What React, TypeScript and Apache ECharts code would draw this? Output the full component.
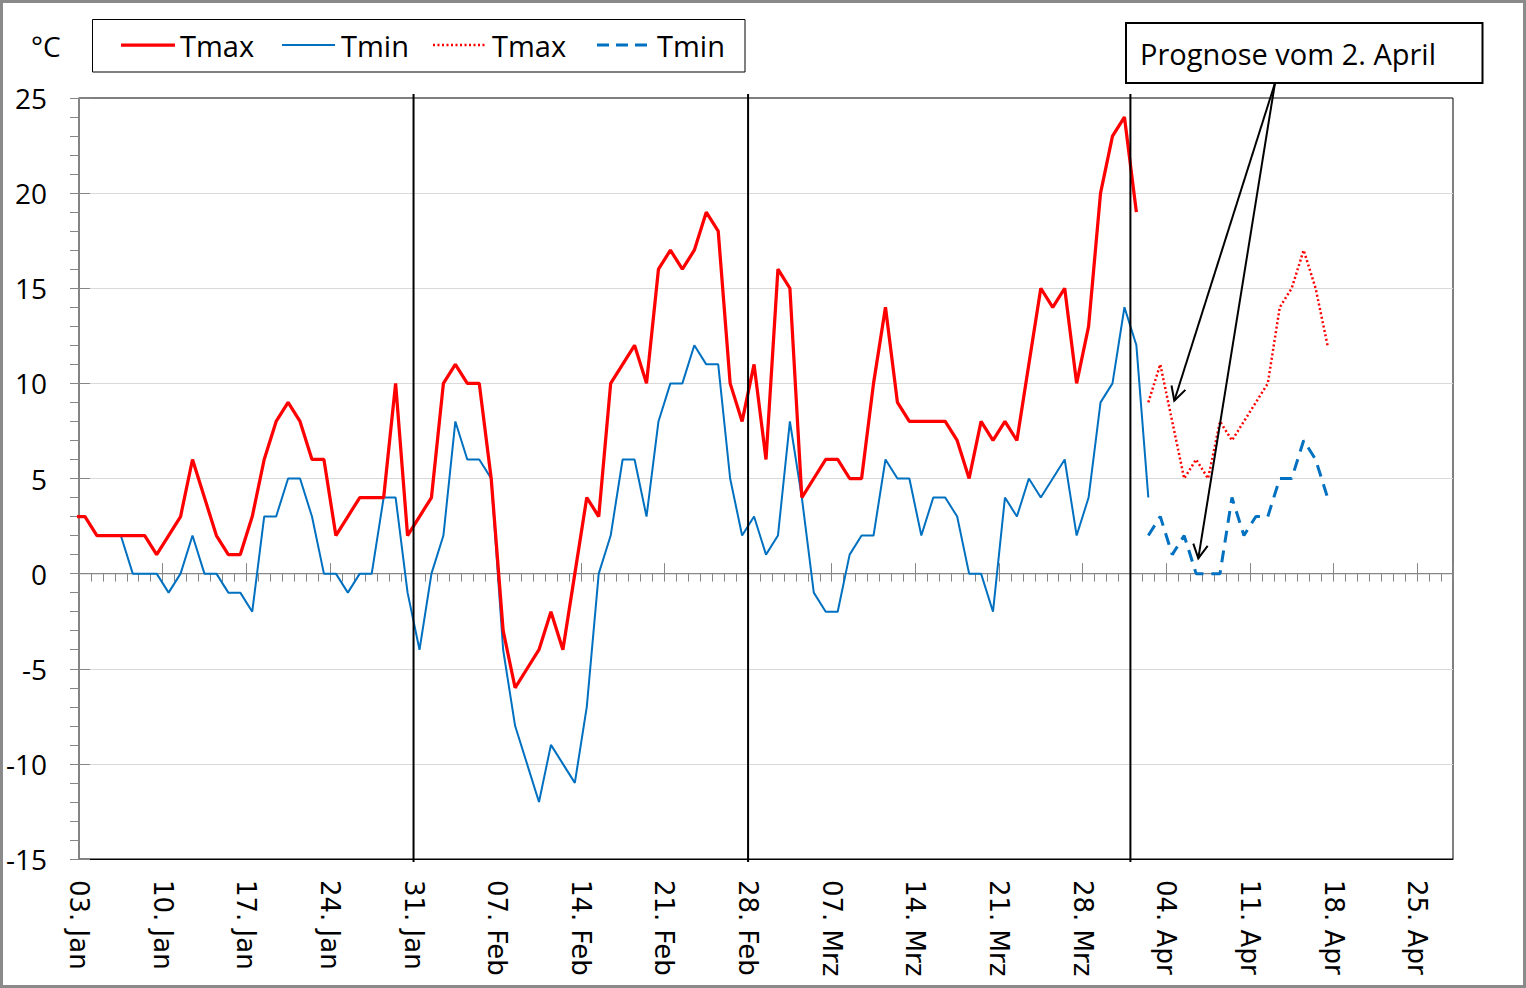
import React, { useEffect, useRef } from "react";
import * as echarts from "echarts";

// ---------- data ----------
const MONTH_LABELS = ["Jan", "Feb", "Mrz", "Apr", "Mai", "Jun", "Jul", "Aug", "Sep", "Okt", "Nov", "Dez"];
const AXIS_START = { year: 2023, month: 0, day: 3 }; // day 0 = 03. Jan
const X_MAX_DAYS = 115;
const X_TICK_INTERVAL = 7;
const Y_MIN = -15;
const Y_MAX = 25;
const Y_INTERVAL = 5;

// observed values, first value = 02. Jan (offset -1 from 03. Jan)
const OBS_START_OFFSET = -1;
const TMAX_OBS = [
  3, 3, 2, 2, 2, 2, 2, 1, 2, 3,
  6, 4, 2, 1, 1, 3, 6, 8, 9, 8,
  6, 6, 2, 3, 4, 4, 4, 10, 2, 3,
  4, 10, 11, 10, 10, 5, -3, -6, -5, -4,
  -2, -4, 0, 4, 3, 10, 11, 12, 10, 16,
  17, 16, 17, 19, 18, 10, 8, 11,
  6, 16, 15, 4, 5, 6, 6, 5, 5, 10,
  14, 9, 8, 8, 8, 8, 7, 5, 8, 7,
  8, 7, 11, 15, 14, 15, 10, 13, 20, 23, 24,
  19,
];
const TMIN_OBS = [
  3, 3, 2, 2, 2, 0, 0, 0, -1, 0,
  2, 0, 0, -1, -1, -2, 3, 3, 5, 5,
  3, 0, 0, -1, 0, 0, 4, 4, -1, -4,
  0, 2, 8, 6, 6, 5, -4, -8, -10, -12,
  -9, -10, -11, -7, 0, 2, 6, 6, 3, 8,
  10, 10, 12, 11, 11, 5, 2, 3,
  1, 2, 8, 4, -1, -2, -2, 1, 2, 2,
  6, 5, 5, 2, 4, 4, 3, 0, 0, -2,
  4, 3, 5, 4, 5, 6, 2, 4, 9, 10, 14,
  12, 4,
];

// forecast from 02. Apr (offset 89)
const FC_START_OFFSET = 89;
const TMAX_FC = [9, 11, 8, 5, 6, 5, 8, 7, 8, 9, 10, 14, 15, 17, 15, 12];
const TMIN_FC = [2, 3, 1, 2, 0, 0, 0, 4, 2, 3, 3, 5, 5, 7, 6, 4];

// vertical separator lines (day offsets): 31. Jan, 28. Feb, 01. Apr
const SEPARATOR_DAYS = [28, 56, 88];

const LEGEND_NAMES = ["Tmax", "Tmin", "Tmax", "Tmin"];
const ANNOTATION_TEXT = "Prognose vom 2. April";
const UNIT_TEXT = "°C";

// ---------- helpers ----------
const toSeries = (vals: number[], startOffset: number) =>
  vals.map((v, i) => [startOffset + i + 0.5, v]);

const formatDay = (v: number) => {
  if (v % X_TICK_INTERVAL !== 0) return "";
  const d = new Date(Date.UTC(AXIS_START.year, AXIS_START.month, AXIS_START.day + v));
  return `${String(d.getUTCDate()).padStart(2, "0")}. ${MONTH_LABELS[d.getUTCMonth()]}`;
};

const arrowHead = (fx: number, fy: number, tx: number, ty: number, len: number, angDeg: number) => {
  const a = Math.atan2(fy - ty, fx - tx);
  const r = (angDeg * Math.PI) / 180;
  return [
    [tx + len * Math.cos(a + r), ty + len * Math.sin(a + r)],
    [tx, ty],
    [tx + len * Math.cos(a - r), ty + len * Math.sin(a - r)],
  ];
};

const RED = "#FF0000";
const BLUE = "#0070C0";
const AXIS_GRAY = "#868686";
const GRID_GRAY = "#D9D9D9";
const FONT = "Open Sans";

export default function App() {
  const ref = useRef<HTMLDivElement>(null);

  useEffect(() => {
    if (!ref.current) return;
    const chart = echarts.init(ref.current, undefined, { renderer: "svg" });

    const legendY = 45;
    const legendItems = [
      { x1: 121, x2: 175, tx: 180, style: { stroke: RED, lineWidth: 3.25 } },
      { x1: 282, x2: 335, tx: 341, style: { stroke: BLUE, lineWidth: 2 } },
      { x1: 433, x2: 486, tx: 492, style: { stroke: RED, lineWidth: 2.5, lineDash: [2, 2.5] } },
      { x1: 597, x2: 650, tx: 657, style: { stroke: BLUE, lineWidth: 3, lineDash: [12, 7] } },
    ];

    const arrowFrom = [1275, 83];
    const arrowTips = [
      [1174.3, 400.7],
      [1198.3, 558.3],
    ];

    const graphic: any[] = [
      {
        type: "rect",
        shape: { x: 1.5, y: 1.5, width: 1523, height: 985 },
        style: { fill: "none", stroke: "#8A8A8A", lineWidth: 3 },
        silent: true,
        z: 100,
      },
      {
        type: "text",
        x: 31,
        y: 46,
        style: { text: UNIT_TEXT, fontSize: 28, fontFamily: FONT, fill: "#000", verticalAlign: "middle" },
        z: 100,
      },
      {
        type: "rect",
        shape: { x: 92.5, y: 19.5, width: 652.5, height: 52.5 },
        style: { fill: "#fff", stroke: "#000", lineWidth: 1 },
        z: 100,
      },
      ...legendItems.flatMap((it, i) => [
        {
          type: "line",
          shape: { x1: it.x1, y1: legendY, x2: it.x2, y2: legendY },
          style: it.style,
          z: 101,
        },
        {
          type: "text",
          x: it.tx,
          y: legendY,
          style: {
            text: LEGEND_NAMES[i],
            fontSize: 29,
            fontFamily: FONT,
            fill: "#000",
            verticalAlign: "middle",
          },
          z: 101,
        },
      ]),
      {
        type: "rect",
        shape: { x: 1126, y: 23, width: 356.5, height: 60 },
        style: { fill: "#fff", stroke: "#000", lineWidth: 2 },
        z: 100,
      },
      {
        type: "text",
        x: 1140,
        y: 53,
        style: {
          text: ANNOTATION_TEXT,
          fontSize: 29,
          fontFamily: FONT,
          fill: "#000",
          verticalAlign: "middle",
        },
        z: 101,
      },
      ...arrowTips.flatMap((t) => [
        {
          type: "line",
          shape: { x1: arrowFrom[0], y1: arrowFrom[1], x2: t[0], y2: t[1] },
          style: { stroke: "#000", lineWidth: 2 },
          z: 102,
        },
        {
          type: "polyline",
          shape: { points: arrowHead(arrowFrom[0], arrowFrom[1], t[0], t[1], 15.5, 28) },
          style: { stroke: "#000", lineWidth: 2, fill: "none" },
          z: 102,
        },
      ]),
    ];

    const valueAxisBase = { type: "value", min: 0, max: X_MAX_DAYS };

    const option: any = {
      animation: false,
      backgroundColor: "#fff",
      grid: {
        left: 79,
        right: 73,
        top: 98,
        bottom: 129,
        show: true,
        borderColor: "#000",
        borderWidth: 1,
        containLabel: false,
        outerBoundsMode: "none",
      },
      xAxis: [
        {
          ...valueAxisBase,
          interval: X_TICK_INTERVAL,
          position: "bottom",
          axisLine: { show: true, onZero: false, lineStyle: { color: "#000", width: 1 } },
          axisTick: { show: false },
          splitLine: { show: false },
          axisLabel: {
            rotate: -90,
            margin: 21,
            fontSize: 26,
            fontFamily: "DejaVu Sans",
            color: "#000",
            formatter: formatDay,
            showMaxLabel: false,
          },
        },
        {
          ...valueAxisBase,
          interval: 1,
          position: "bottom",
          axisLine: { show: true, onZero: true, onZeroAxisIndex: 0, lineStyle: { color: AXIS_GRAY, width: 1.25 } },
          axisTick: { show: true, length: 8, lineStyle: { color: AXIS_GRAY, width: 1 } },
          axisLabel: { show: false },
          splitLine: { show: false },
        },
        {
          ...valueAxisBase,
          interval: X_TICK_INTERVAL,
          position: "top",
          axisLine: { show: false, onZero: true, onZeroAxisIndex: 1 },
          axisTick: { show: true, length: 10.5, lineStyle: { color: AXIS_GRAY, width: 1 } },
          axisLabel: { show: false },
          splitLine: { show: false },
        },
      ],
      yAxis: [
        {
          type: "value",
          min: Y_MIN,
          max: Y_MAX,
          interval: Y_INTERVAL,
          position: "left",
          axisLine: { show: true, onZero: false, lineStyle: { color: AXIS_GRAY, width: 1.5 } },
          axisTick: { show: true, length: 9, lineStyle: { color: AXIS_GRAY, width: 1 } },
          minorTick: { show: true, splitNumber: 5, length: 9, lineStyle: { color: AXIS_GRAY, width: 1 } },
          splitLine: {
            show: true,
            showMinLine: false,
            showMaxLine: false,
            lineStyle: { color: GRID_GRAY, width: 1 },
          },
          axisLabel: { margin: 32, fontSize: 28, fontFamily: FONT, color: "#000" },
        },
        {
          type: "value",
          min: Y_MIN,
          max: Y_MAX,
          interval: Y_INTERVAL,
          position: "left",
          axisLine: { show: false, onZero: false },
          axisTick: { show: true, inside: true, length: 11, lineStyle: { color: AXIS_GRAY, width: 1 } },
          axisLabel: { show: false },
          splitLine: { show: false },
        },
      ],
      series: [
        {
          name: "Tmin",
          type: "line",
          data: toSeries(TMIN_OBS, OBS_START_OFFSET),
          symbol: "none",
          lineStyle: { color: BLUE, width: 2 },
          itemStyle: { color: BLUE },
          clip: true,
          silent: true,
        },
        {
          name: "Tmax",
          type: "line",
          data: toSeries(TMAX_OBS, OBS_START_OFFSET),
          symbol: "none",
          lineStyle: { color: RED, width: 3.25 },
          itemStyle: { color: RED },
          clip: true,
          silent: true,
        },
        {
          name: "Tmin Prognose",
          type: "line",
          data: toSeries(TMIN_FC, FC_START_OFFSET),
          symbol: "none",
          lineStyle: { color: BLUE, width: 3, type: [12, 8] },
          itemStyle: { color: BLUE },
          clip: true,
          silent: true,
        },
        {
          name: "Tmax Prognose",
          type: "line",
          data: toSeries(TMAX_FC, FC_START_OFFSET),
          symbol: "none",
          lineStyle: { color: RED, width: 2.5, type: [2, 2.5] },
          itemStyle: { color: RED },
          clip: true,
          silent: true,
        },
        {
          name: "Trennlinien",
          type: "custom",
          data: SEPARATOR_DAYS.map((d) => [d, Y_MIN]),
          encode: { x: 0, y: 1 },
          silent: true,
          z: 5,
          renderItem: (_params: any, api: any) => {
            const x = api.value(0);
            const top = api.coord([x, Y_MAX]);
            const bot = api.coord([x, Y_MIN]);
            return {
              type: "line",
              shape: { x1: top[0], y1: top[1] - 4, x2: bot[0], y2: bot[1] + 3 },
              style: { stroke: "#000", lineWidth: 2 },
            };
          },
        },
      ],
      graphic,
    };

    chart.setOption(option);
    return () => chart.dispose();
  }, []);

  return (
    <div
      ref={ref}
      style={{ position: "absolute", left: 0, top: 0, width: 1526, height: 988, background: "#fff" }}
    />
  );
}
